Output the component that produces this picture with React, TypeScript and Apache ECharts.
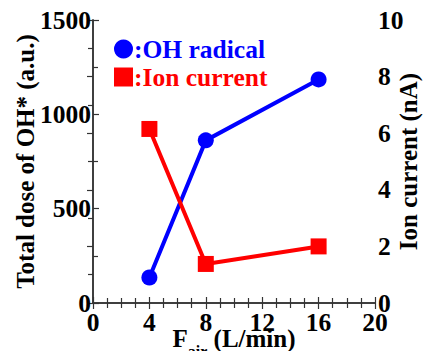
import React, { useEffect, useRef } from "react";
import * as echarts from "echarts";

const flowRates = [4, 8, 16];
const ohRadical = [135, 862, 1185];
const ionCurrent = [6.15, 1.38, 2.0];

const FONT = "Liberation Serif";
const FS = 25.5;

export default function App() {
  const ref = useRef<HTMLDivElement>(null);
  useEffect(() => {
    if (!ref.current) return;
    const chart = echarts.init(ref.current, null, { renderer: "svg" });
    const axisLine = { show: true, lineStyle: { color: "#333", width: 1.5 } };
    const tick = { show: true, inside: true, length: 6, lineStyle: { color: "#333", width: 1.2 } };
    const mkLabel = (margin: number) => ({
      show: true,
      color: "#000",
      fontFamily: FONT,
      fontWeight: "bold",
      fontSize: FS,
      margin,
      formatter: (v: number) => String(v),
    });
    const nameStyle = { color: "#000", fontFamily: FONT, fontWeight: "bold", fontSize: 25 };
    const legendText = (color: string) => ({ color, fontFamily: FONT, fontWeight: "bold", fontSize: FS, lineHeight: 22 });
    chart.setOption({
      animation: false,
      backgroundColor: "#fff",
      textStyle: { fontFamily: FONT },
      grid: { left: 93, right: 51, top: 20, bottom: 48, containLabel: false, outerBoundsMode: "none" },
      legend: {
        orient: "vertical",
        left: 109,
        top: 31,
        itemWidth: 19,
        itemHeight: 19,
        itemGap: 2,
        selectedMode: false,
        formatter: (n: string) => ":" + n,
        textStyle: { ...legendText("#000"), padding: [0, 0, 0, -4] },
        data: [
          { name: "OH radical", icon: "circle", textStyle: legendText("#0000ff") },
          { name: "Ion current", icon: "rect", textStyle: legendText("#ff0000") },
        ],
      },
      xAxis: [
        {
          type: "value",
          min: 0,
          max: 20,
          interval: 4,
          position: "bottom",
          axisLine,
          axisTick: tick,
          minorTick: { show: true, splitNumber: 4, length: 5, lineStyle: { color: "#333", width: 1.2 } },
          splitLine: { show: false },
          axisLabel: mkLabel(6),
          name: "{a|F}{b|air}{a| (L/min)}",
          nameLocation: "middle",
          nameGap: 23,
          nameMoveOverlap: false,
          nameTextStyle: {
            rich: {
              a: { fontFamily: FONT, fontWeight: "bold", fontSize: 25, color: "#000", verticalAlign: "bottom", padding: [0, 0, 8, 0] },
              b: { fontFamily: FONT, fontWeight: "bold", fontSize: 16, color: "#000", verticalAlign: "bottom" },
            },
          },
        },
        {
          type: "value",
          min: 0,
          max: 20,
          interval: 4,
          position: "top",
          axisLine,
          axisTick: tick,
          minorTick: { show: true, splitNumber: 4, length: 5, lineStyle: { color: "#333", width: 1.2 } },
          splitLine: { show: false },
          axisLabel: { show: false },
        },
      ],
      yAxis: [
        {
          type: "value",
          min: 0,
          max: 1500,
          interval: 500,
          position: "left",
          axisLine,
          axisTick: tick,
          minorTick: { show: true, splitNumber: 2, length: 5, lineStyle: { color: "#333", width: 1.2 } },
          splitLine: { show: false },
          axisLabel: mkLabel(2),
          name: "Total dose of OH* (a.u.)",
          nameLocation: "middle",
          nameRotate: 90,
          nameGap: 55,
          nameMoveOverlap: false,
          nameTextStyle: nameStyle,
        },
        {
          type: "value",
          min: 0,
          max: 10,
          interval: 2,
          position: "right",
          axisLine,
          axisTick: tick,
          minorTick: { show: true, splitNumber: 2, length: 5, lineStyle: { color: "#333", width: 1.2 } },
          splitLine: { show: false },
          axisLabel: mkLabel(3),
          name: "Ion current (nA)",
          nameLocation: "middle",
          nameRotate: 90,
          nameGap: 21,
          nameMoveOverlap: false,
          nameTextStyle: nameStyle,
        },
      ],
      series: [
        {
          name: "OH radical",
          type: "line",
          xAxisIndex: 0,
          yAxisIndex: 0,
          data: flowRates.map((x, i) => [x, ohRadical[i]]),
          symbol: "circle",
          symbolSize: 16,
          lineStyle: { color: "#0000ff", width: 4 },
          itemStyle: { color: "#0000ff" },
        },
        {
          name: "Ion current",
          type: "line",
          xAxisIndex: 0,
          yAxisIndex: 1,
          data: flowRates.map((x, i) => [x, ionCurrent[i]]),
          symbol: "rect",
          symbolSize: 16,
          lineStyle: { color: "#ff0000", width: 4 },
          itemStyle: { color: "#ff0000" },
        },
      ],
    });
    return () => chart.dispose();
  }, []);
  return <div ref={ref} style={{ width: 426, height: 351, position: "absolute", left: 0, top: 0 }} />;
}
